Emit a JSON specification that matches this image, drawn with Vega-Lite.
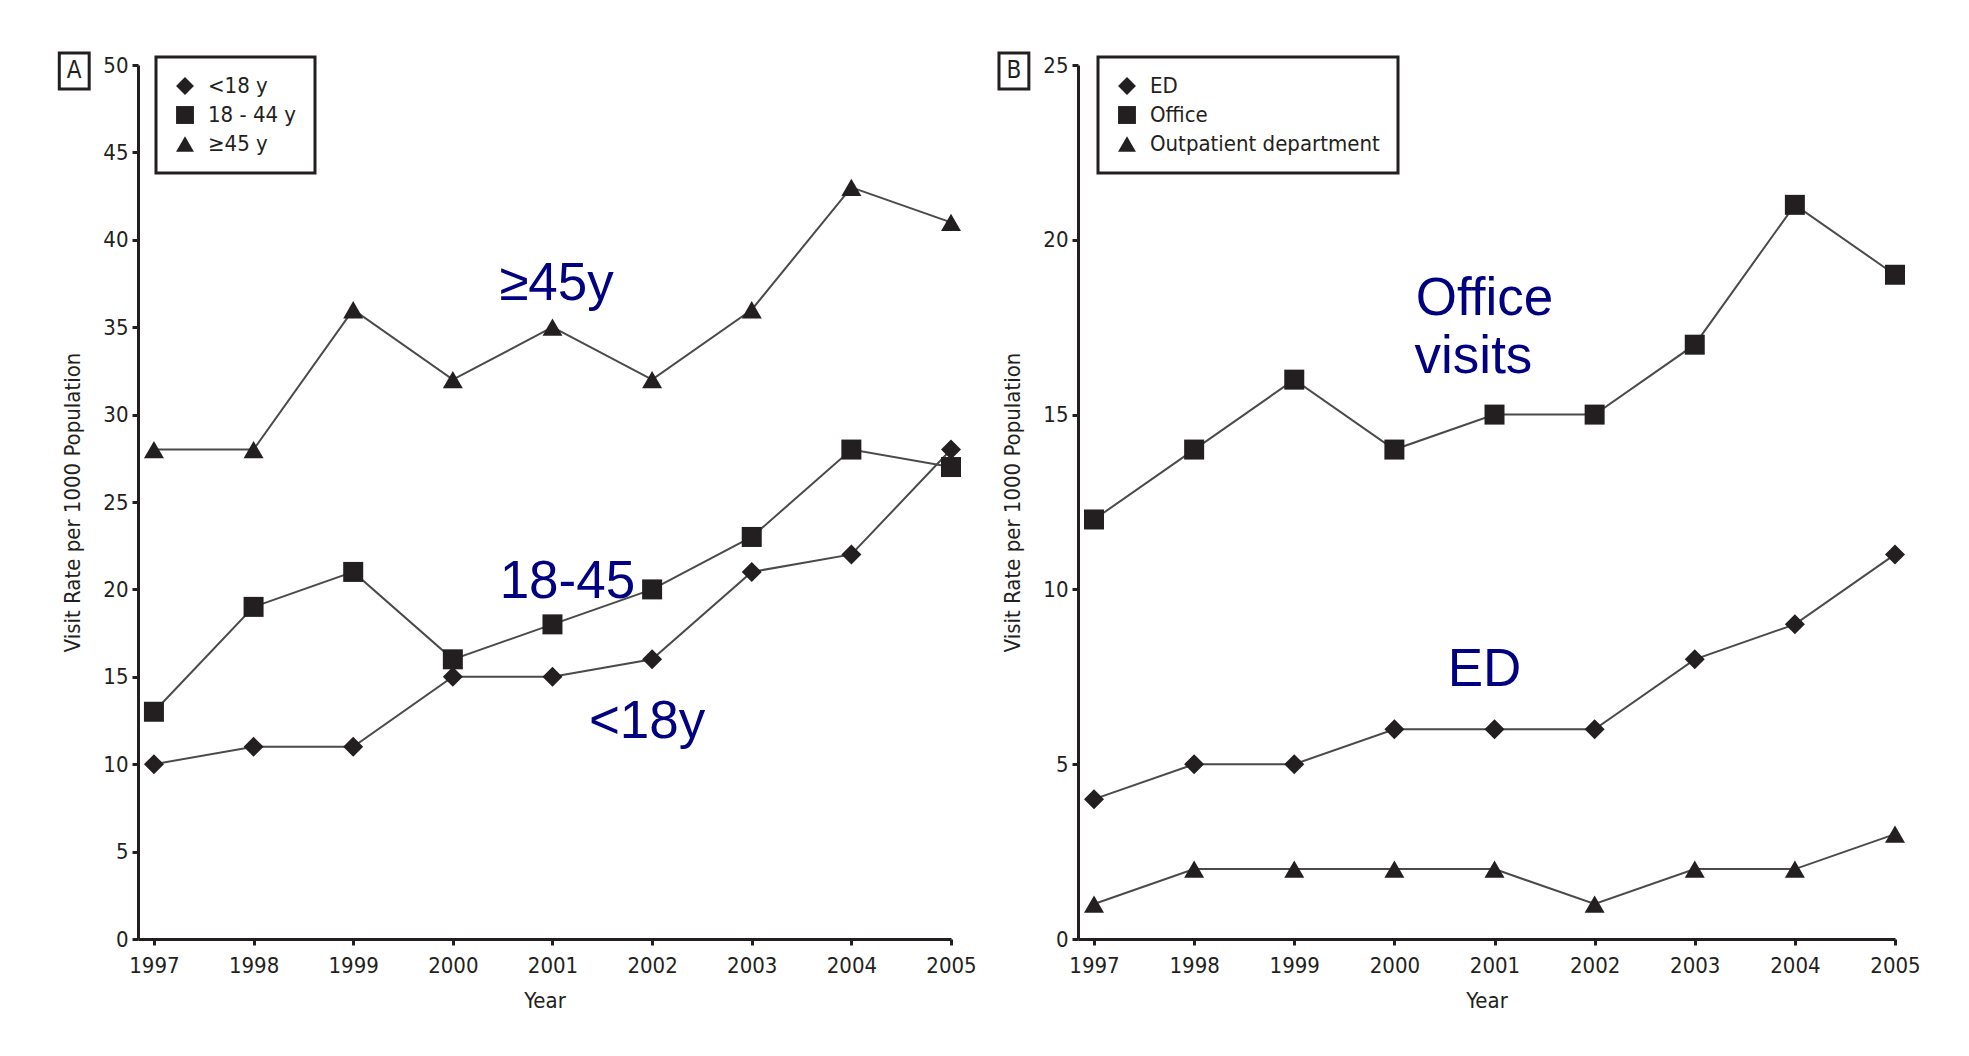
{
  "$schema": "https://vega.github.io/schema/vega-lite/v6.json",
  "background": "white",
  "padding": {"left": 53, "top": 46, "right": 10, "bottom": 10},
  "datasets": {
    "series": [
      {"panel": "A", "series": "<18 y", "year": 1997, "rate": 10},
      {"panel": "A", "series": "<18 y", "year": 1998, "rate": 11},
      {"panel": "A", "series": "<18 y", "year": 1999, "rate": 11},
      {"panel": "A", "series": "<18 y", "year": 2000, "rate": 15},
      {"panel": "A", "series": "<18 y", "year": 2001, "rate": 15},
      {"panel": "A", "series": "<18 y", "year": 2002, "rate": 16},
      {"panel": "A", "series": "<18 y", "year": 2003, "rate": 21},
      {"panel": "A", "series": "<18 y", "year": 2004, "rate": 22},
      {"panel": "A", "series": "<18 y", "year": 2005, "rate": 28},
      {"panel": "A", "series": "18 - 44 y", "year": 1997, "rate": 13},
      {"panel": "A", "series": "18 - 44 y", "year": 1998, "rate": 19},
      {"panel": "A", "series": "18 - 44 y", "year": 1999, "rate": 21},
      {"panel": "A", "series": "18 - 44 y", "year": 2000, "rate": 16},
      {"panel": "A", "series": "18 - 44 y", "year": 2001, "rate": 18},
      {"panel": "A", "series": "18 - 44 y", "year": 2002, "rate": 20},
      {"panel": "A", "series": "18 - 44 y", "year": 2003, "rate": 23},
      {"panel": "A", "series": "18 - 44 y", "year": 2004, "rate": 28},
      {"panel": "A", "series": "18 - 44 y", "year": 2005, "rate": 27},
      {"panel": "A", "series": "≥45 y", "year": 1997, "rate": 28},
      {"panel": "A", "series": "≥45 y", "year": 1998, "rate": 28},
      {"panel": "A", "series": "≥45 y", "year": 1999, "rate": 36},
      {"panel": "A", "series": "≥45 y", "year": 2000, "rate": 32},
      {"panel": "A", "series": "≥45 y", "year": 2001, "rate": 35},
      {"panel": "A", "series": "≥45 y", "year": 2002, "rate": 32},
      {"panel": "A", "series": "≥45 y", "year": 2003, "rate": 36},
      {"panel": "A", "series": "≥45 y", "year": 2004, "rate": 43},
      {"panel": "A", "series": "≥45 y", "year": 2005, "rate": 41},
      {"panel": "B", "series": "ED", "year": 1997, "rate": 4},
      {"panel": "B", "series": "ED", "year": 1998, "rate": 5},
      {"panel": "B", "series": "ED", "year": 1999, "rate": 5},
      {"panel": "B", "series": "ED", "year": 2000, "rate": 6},
      {"panel": "B", "series": "ED", "year": 2001, "rate": 6},
      {"panel": "B", "series": "ED", "year": 2002, "rate": 6},
      {"panel": "B", "series": "ED", "year": 2003, "rate": 8},
      {"panel": "B", "series": "ED", "year": 2004, "rate": 9},
      {"panel": "B", "series": "ED", "year": 2005, "rate": 11},
      {"panel": "B", "series": "Office", "year": 1997, "rate": 12},
      {"panel": "B", "series": "Office", "year": 1998, "rate": 14},
      {"panel": "B", "series": "Office", "year": 1999, "rate": 16},
      {"panel": "B", "series": "Office", "year": 2000, "rate": 14},
      {"panel": "B", "series": "Office", "year": 2001, "rate": 15},
      {"panel": "B", "series": "Office", "year": 2002, "rate": 15},
      {"panel": "B", "series": "Office", "year": 2003, "rate": 17},
      {"panel": "B", "series": "Office", "year": 2004, "rate": 21},
      {"panel": "B", "series": "Office", "year": 2005, "rate": 19},
      {"panel": "B", "series": "Outpatient department", "year": 1997, "rate": 1},
      {"panel": "B", "series": "Outpatient department", "year": 1998, "rate": 2},
      {"panel": "B", "series": "Outpatient department", "year": 1999, "rate": 2},
      {"panel": "B", "series": "Outpatient department", "year": 2000, "rate": 2},
      {"panel": "B", "series": "Outpatient department", "year": 2001, "rate": 2},
      {"panel": "B", "series": "Outpatient department", "year": 2002, "rate": 1},
      {"panel": "B", "series": "Outpatient department", "year": 2003, "rate": 2},
      {"panel": "B", "series": "Outpatient department", "year": 2004, "rate": 2},
      {"panel": "B", "series": "Outpatient department", "year": 2005, "rate": 3}
    ],
    "notes": [
      {"panel": "A", "label": "≥45y", "year": 2001.04, "rate": 36.56},
      {"panel": "A", "label": "18-45", "year": 2001.15, "rate": 19.48},
      {"panel": "A", "label": "<18y", "year": 2001.95, "rate": 11.5},
      {"panel": "B", "label": "Office", "year": 2000.9, "rate": 17.85},
      {"panel": "B", "label": "visits", "year": 2000.79, "rate": 16.2},
      {"panel": "B", "label": "ED", "year": 2000.9, "rate": 7.25}
    ],
    "tags": [
      {"panel": "A", "label": "A", "year": 1996.2, "rate": 49.66},
      {"panel": "B", "label": "B", "year": 1996.2, "rate": 24.83}
    ]
  },
  "resolve": {"scale": {"x": "independent", "y": "independent", "shape": "independent"}, "legend": {"shape": "independent"}},
  "spacing": 15,
  "hconcat": [
    {
      "width": 813,
      "height": 874,
      "encoding": {
        "x": {"field": "year", "type": "quantitative", "title": "Year",
              "scale": {"domain": [1996.84, 2005], "nice": false, "zero": false},
              "axis": {"values": [1997, 1998, 1999, 2000, 2001, 2002, 2003, 2004, 2005], "format": "d"}},
        "y": {"field": "rate", "type": "quantitative", "title": "Visit Rate per 1000 Population",
              "scale": {"domain": [0, 50], "nice": false, "zero": true},
              "axis": {"values": [0, 5, 10, 15, 20, 25, 30, 35, 40, 45, 50]}}
      },
      "layer": [
        {
          "data": {"name": "series"},
          "transform": [{"filter": "datum.panel === 'A'"}],
          "mark": {"type": "line", "color": "#4a4a4a", "strokeWidth": 2},
          "encoding": {"detail": {"field": "series"}}
        },
        {
          "data": {"name": "series"},
          "transform": [{"filter": "datum.panel === 'A'"}],
          "mark": {"type": "point", "filled": true, "color": "#231f20", "opacity": 1, "size": 400},
          "encoding": {
            "shape": {"field": "series", "type": "nominal",
                      "scale": {"domain": ["<18 y", "18 - 44 y", "≥45 y"], "range": ["diamond", "square", "triangle-up"]},
                      "legend": {"title": null, "orient": "none", "legendX": 18, "legendY": -8}}
          }
        },
        {
          "data": {"name": "notes"},
          "transform": [{"filter": "datum.panel === 'A'"}],
          "mark": {"type": "text", "font": "Liberation Sans", "fontSize": 53, "color": "#000080", "align": "center", "baseline": "alphabetic"},
          "encoding": {"text": {"field": "label"}}
        },
        {
          "data": {"name": "tags"},
          "transform": [{"filter": "datum.panel === 'A'"}],
          "mark": {"type": "point", "shape": "M-0.83,-1L0.83,-1L0.83,1L-0.83,1Z", "size": 1296, "filled": false, "stroke": "#231f20", "strokeWidth": 3, "opacity": 1},
          "encoding": {}
        },
        {
          "data": {"name": "tags"},
          "transform": [{"filter": "datum.panel === 'A'"}],
          "mark": {"type": "text", "font": "DejaVu Sans Condensed, sans-serif", "fontSize": 24, "color": "#231f20", "align": "center", "baseline": "middle"},
          "encoding": {"text": {"field": "label"}}
        }
      ]
    },
    {
      "width": 817,
      "height": 874,
      "encoding": {
        "x": {"field": "year", "type": "quantitative", "title": "Year",
              "scale": {"domain": [1996.84, 2005], "nice": false, "zero": false},
              "axis": {"values": [1997, 1998, 1999, 2000, 2001, 2002, 2003, 2004, 2005], "format": "d"}},
        "y": {"field": "rate", "type": "quantitative", "title": "Visit Rate per 1000 Population",
              "scale": {"domain": [0, 25], "nice": false, "zero": true},
              "axis": {"values": [0, 5, 10, 15, 20, 25]}}
      },
      "layer": [
        {
          "data": {"name": "series"},
          "transform": [{"filter": "datum.panel === 'B'"}],
          "mark": {"type": "line", "color": "#4a4a4a", "strokeWidth": 2},
          "encoding": {"detail": {"field": "series"}}
        },
        {
          "data": {"name": "series"},
          "transform": [{"filter": "datum.panel === 'B'"}],
          "mark": {"type": "point", "filled": true, "color": "#231f20", "opacity": 1, "size": 400},
          "encoding": {
            "shape": {"field": "series", "type": "nominal",
                      "scale": {"domain": ["ED", "Office", "Outpatient department"], "range": ["diamond", "square", "triangle-up"]},
                      "legend": {"title": null, "orient": "none", "legendX": 20, "legendY": -8}}
          }
        },
        {
          "data": {"name": "notes"},
          "transform": [{"filter": "datum.panel === 'B'"}],
          "mark": {"type": "text", "font": "Liberation Sans", "fontSize": 53, "color": "#000080", "align": "center", "baseline": "alphabetic"},
          "encoding": {"text": {"field": "label"}}
        },
        {
          "data": {"name": "tags"},
          "transform": [{"filter": "datum.panel === 'B'"}],
          "mark": {"type": "point", "shape": "M-0.83,-1L0.83,-1L0.83,1L-0.83,1Z", "size": 1296, "filled": false, "stroke": "#231f20", "strokeWidth": 3, "opacity": 1},
          "encoding": {}
        },
        {
          "data": {"name": "tags"},
          "transform": [{"filter": "datum.panel === 'B'"}],
          "mark": {"type": "text", "font": "DejaVu Sans Condensed, sans-serif", "fontSize": 24, "color": "#231f20", "align": "center", "baseline": "middle"},
          "encoding": {"text": {"field": "label"}}
        }
      ]
    }
  ],
  "config": {
    "view": {"stroke": null},
    "axis": {
      "grid": false,
      "domainColor": "#231f20", "domainWidth": 3,
      "tickColor": "#231f20", "tickWidth": 3, "tickSize": 6,
      "labelFont": "DejaVu Sans Condensed, sans-serif", "labelFontSize": 22, "labelColor": "#231f20", "labelPadding": 4,
      "titleFont": "DejaVu Sans Condensed, sans-serif", "titleFontSize": 22, "titleFontWeight": "normal", "titleColor": "#231f20"
    },
    "axisX": {"titlePadding": 14, "labelPadding": 10, "labelFlush": false},
    "axisY": {"titlePadding": 18},
    "legend": {
      "strokeColor": "#231f20", "strokeWidth": 3, "fillColor": "white", "padding": 18,
      "labelFont": "DejaVu Sans Condensed, sans-serif", "labelFontSize": 22, "labelColor": "#231f20",
      "labelOffset": 12, "rowPadding": 7, "symbolSize": 320, "labelLimit": 500,
      "symbolFillColor": "#231f20", "symbolStrokeWidth": 0
    }
  }
}
